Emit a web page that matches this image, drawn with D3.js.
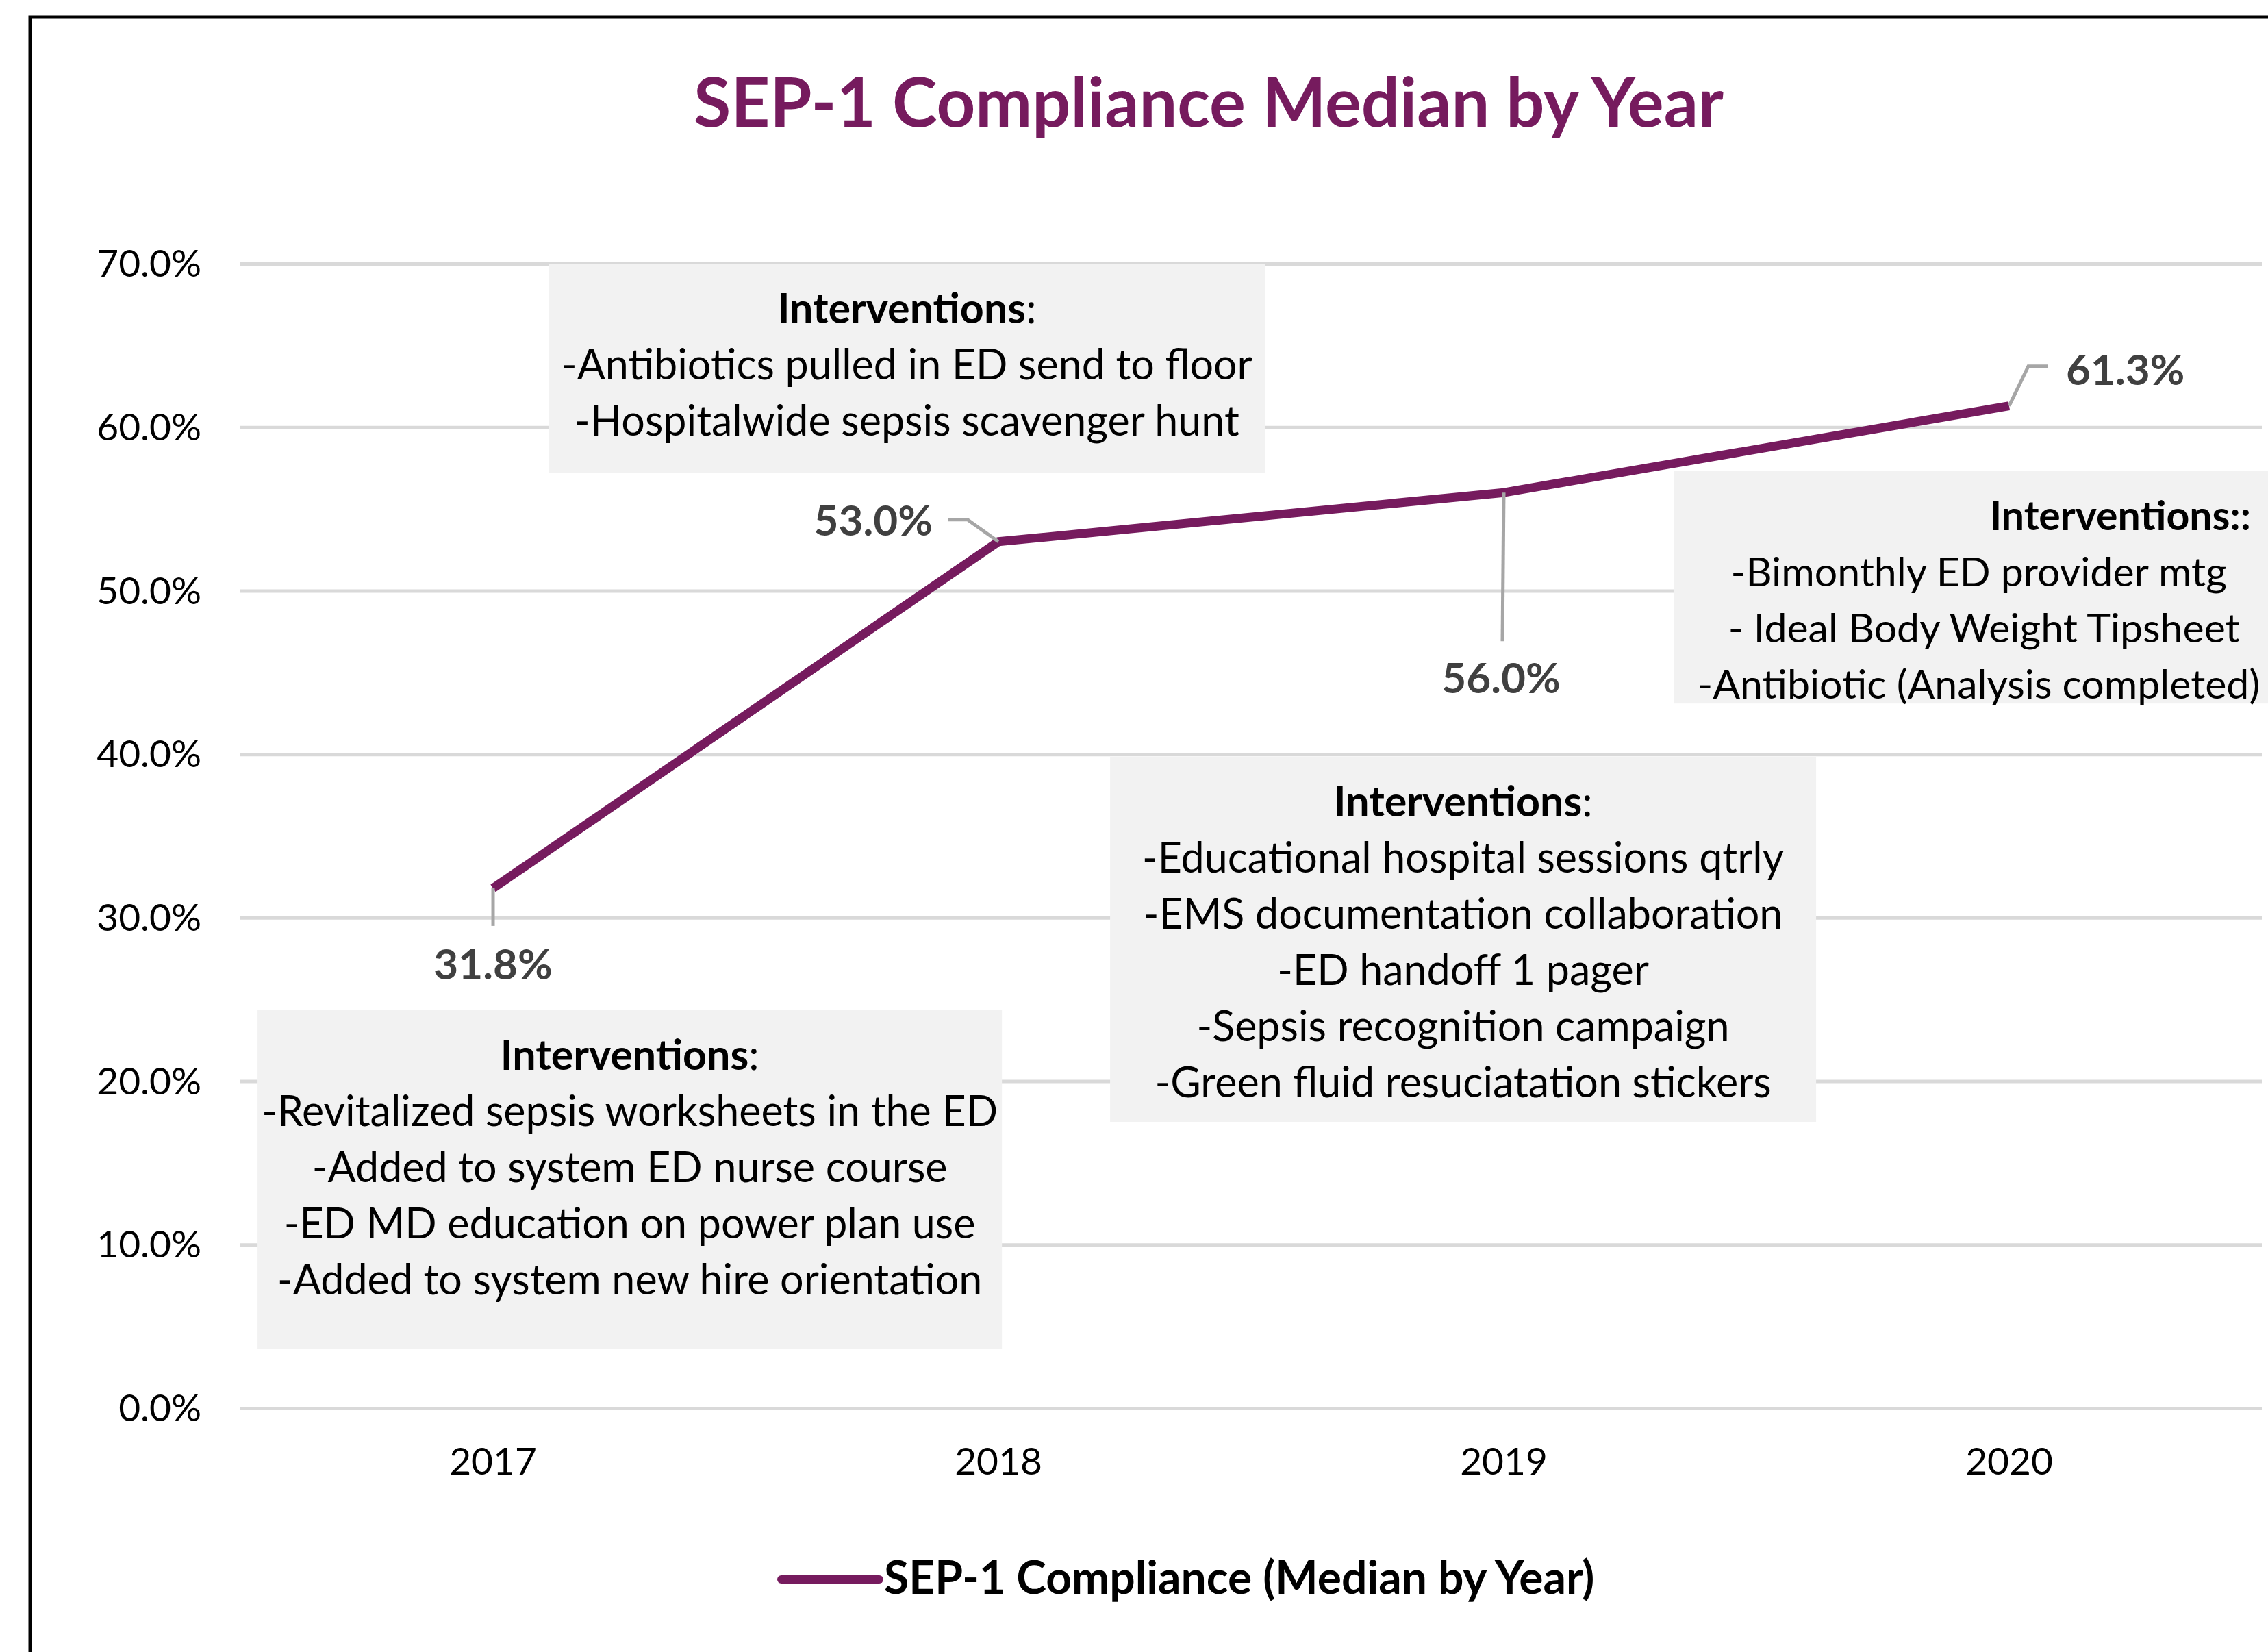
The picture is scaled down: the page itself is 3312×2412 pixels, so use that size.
<!DOCTYPE html>
<html>
<head>
<meta charset="utf-8">
<title>SEP-1 Compliance Median by Year</title>
<script src="https://d3js.org/d3.v7.min.js"></script>
<style>
  body { margin: 0; background: #fff; }
  svg { display: block; font-family: Lato, "Open Sans", sans-serif; }
</style>
</head>
<body>
<div id="chart"></div>
<script>
// chart values
var years = ["2017", "2018", "2019", "2020"];
var compliance = [31.8, 53.0, 56.0, 61.3];
var yTicks = [0, 10, 20, 30, 40, 50, 60, 70];
var seriesName = "SEP-1 Compliance (Median by Year)";
var chartTitle = "SEP-1 Compliance Median by Year";

// intervention notes, one list per text box
var notes2017 = ["-Revitalized sepsis worksheets in the ED", "-Added to system ED nurse course",
                 "-ED MD education on power plan use", "-Added to system new hire orientation"];
var notes2018 = ["-Antibiotics pulled in ED send to floor", "-Hospitalwide sepsis scavenger hunt"];
var notes2019 = ["-Educational hospital sessions qtrly", "-EMS documentation collaboration",
                 "-ED handoff 1 pager", "-Sepsis recognition campaign", "-Green fluid resuciatation stickers"];
var notes2020 = ["-Bimonthly ED provider mtg", " - Ideal Body Weight Tipsheet", "-Antibiotic (Analysis completed)"];

var W = 3312, H = 2412;
var plot = { left: 351, right: 3303, top: 385, bottom: 2056 };
var purple = "#761b5e";

var svg = d3.select("#chart").append("svg")
    .attr("width", W).attr("height", H);

// outer frame (right and bottom edges fall outside the picture)
svg.append("rect")
    .attr("x", 44).attr("y", 25).attr("width", 4000).attr("height", 3000)
    .attr("fill", "none").attr("stroke", "#000").attr("stroke-width", 5);

svg.append("text")
    .attr("x", 1765).attr("y", 185)
    .attr("text-anchor", "middle")
    .attr("font-size", 99).attr("font-weight", 700)
    .attr("fill", purple)
    .text(chartTitle);

var x = d3.scaleBand().domain(years).range([plot.left, plot.right]);
var y = d3.scaleLinear().domain([0, 70]).range([plot.bottom, plot.top]);
// continuous position in "year index" units, for placing the text boxes
var xi = d3.scaleLinear().domain([0, years.length - 1])
    .range([x(years[0]) + x.bandwidth() / 2, x(years[years.length - 1]) + x.bandwidth() / 2]);

var g = svg.append("g");

// y axis with gridlines
var yAxis = g.append("g")
    .attr("transform", "translate(" + plot.left + ",0)")
    .call(d3.axisLeft(y).tickValues(yTicks)
        .tickSize(-(plot.right - plot.left)).tickPadding(57)
        .tickFormat(function(d) { return d.toFixed(1) + "%"; }));
yAxis.select(".domain").remove();
yAxis.selectAll(".tick line").attr("stroke", "#d9d9d9").attr("stroke-width", 5);
yAxis.selectAll(".tick text")
    .attr("font-family", "Lato").attr("font-size", 55).attr("fill", "#000")
    .attr("dy", "0.34em");

// x axis
var xAxis = g.append("g")
    .attr("transform", "translate(0," + plot.bottom + ")")
    .call(d3.axisBottom(x).tickSize(0));
xAxis.select(".domain").remove();
xAxis.selectAll(".tick text")
    .attr("font-family", "Lato").attr("font-size", 55).attr("fill", "#000")
    .attr("y", 97).attr("dy", 0);

// intervention boxes, placed in data units (year index, percent)
// tc = text centre (year index) when it differs from the box middle
var boxes = [
    { lines: notes2017, x0: -0.466, x1: 1.007, top: 24.34, bottom: 3.6, fs: 61 },
    { lines: notes2018, x0: 0.110, x1: 1.528, top: 70.0, bottom: 57.2, fs: 61 },
    { lines: notes2019, x0: 1.221, x1: 2.618, top: 39.84, bottom: 17.51, fs: 61 },
    { lines: notes2020, x0: 2.336, x1: 3.6, top: 57.35, bottom: 43.1, fs: 59, tc: 2.94,
      head: "Interventions::", headAnchor: "start", headDx: 16 }
];

var boxG = g.selectAll(".note").data(boxes).enter().append("g").attr("class", "note");
boxG.append("rect")
    .attr("x", function(d) { return xi(d.x0); })
    .attr("y", function(d) { return y(d.top); })
    .attr("width", function(d) { return xi(d.x1) - xi(d.x0); })
    .attr("height", function(d) { return y(d.bottom) - y(d.top); })
    .attr("fill", "#f2f2f2");

boxG.each(function(d) {
    var cx = d.tc != null ? xi(d.tc) : (xi(d.x0) + xi(d.x1)) / 2;
    var t0 = y(d.top) + 87;
    var sel = d3.select(this);
    var head = sel.append("text")
        .attr("x", cx + (d.headDx || 0)).attr("y", t0)
        .attr("text-anchor", d.headAnchor || "middle")
        .attr("font-size", d.fs).attr("fill", "#000");
    if (d.head) {
        head.append("tspan").attr("font-weight", 700).text(d.head);
    } else {
        head.append("tspan").attr("font-weight", 700).text("Interventions");
        head.append("tspan").text(":");
    }
    sel.selectAll(".ln").data(d.lines).enter().append("text")
        .attr("class", "ln")
        .attr("x", cx)
        .attr("y", function(l, i) { return t0 + 82 * (i + 1); })
        .attr("text-anchor", "middle")
        .attr("font-size", d.fs).attr("fill", "#000")
        .attr("xml:space", "preserve")
        .style("white-space", "pre")
        .text(function(l) { return l; });
});

// the series line
var pts = years.map(function(yr, i) { return { year: yr, value: compliance[i] }; });
var line = d3.line()
    .x(function(d) { return x(d.year) + x.bandwidth() / 2; })
    .y(function(d) { return y(d.value); });

g.append("path")
    .datum(pts)
    .attr("d", line)
    .attr("fill", "none")
    .attr("stroke", purple)
    .attr("stroke-width", 13)
    .attr("stroke-linejoin", "round");

// data labels with leader lines (offsets from each point)
var labelLayout = [
    { dx: 0, dy: 133, anchor: "middle", leader: [[0, 0], [0, 55]] },
    { dx: -96, dy: -9, anchor: "end", leader: [[0, 0], [-45, -32], [-73, -32]] },
    { dx: -4, dy: 293, anchor: "middle", leader: [[0, 0], [-2, 217]] },
    { dx: 83, dy: -31, anchor: "start", leader: [[0, 0], [28, -58], [56, -58]] }
];

pts.forEach(function(p, i) {
    var px = x(p.year) + x.bandwidth() / 2, py = y(p.value);
    var L = labelLayout[i];
    g.append("path")
        .attr("d", d3.line()(L.leader.map(function(o) { return [px + o[0], py + o[1]]; })))
        .attr("fill", "none").attr("stroke", "#a6a6a6").attr("stroke-width", 5);
    g.append("text")
        .attr("x", px + L.dx).attr("y", py + L.dy)
        .attr("text-anchor", L.anchor)
        .attr("font-size", 62).attr("font-weight", 700).attr("fill", "#404040")
        .text(p.value.toFixed(1) + "%");
});

// legend
var legend = svg.append("g").attr("transform", "translate(1141,2306)");
legend.append("line")
    .attr("x1", 0).attr("x2", 143).attr("y1", 0).attr("y2", 0)
    .attr("stroke", purple).attr("stroke-width", 12).attr("stroke-linecap", "round");
legend.append("text")
    .attr("x", 150).attr("y", 21)
    .attr("font-size", 66).attr("font-weight", 700).attr("fill", "#000")
    .text(seriesName);
</script>
</body>
</html>
